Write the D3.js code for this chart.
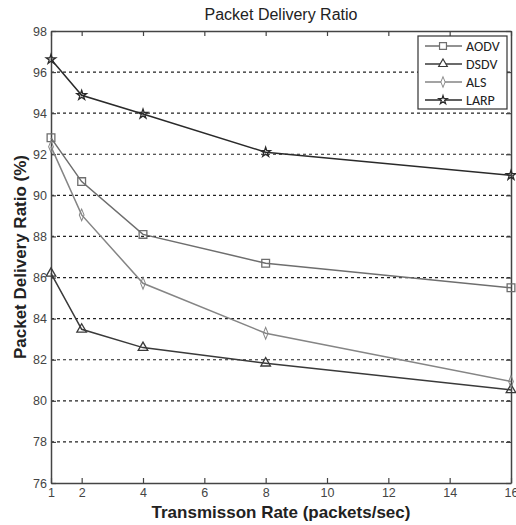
<!DOCTYPE html>
<html>
<head>
<meta charset="utf-8">
<script src="https://cdn.jsdelivr.net/npm/d3@7"></script>
<style>
  body { margin: 0; background: #fff; }
  svg { display: block; font-family: "Liberation Sans", Arial, sans-serif; }
</style>
</head>
<body>
<div id="chart"></div>
<script>
var rates = [1, 2, 4, 8, 16];
var xTicks = [1, 2, 4, 6, 8, 10, 12, 14, 16];
var yTicks = [76, 78, 80, 82, 84, 86, 88, 90, 92, 94, 96, 98];

var aodv = [92.8, 90.67, 88.1, 86.7, 85.5];
var dsdv = [86.2, 83.48, 82.59, 81.83, 80.53];
var als  = [92.37, 89.05, 85.72, 83.29, 80.94];
var larp = [96.62, 94.87, 93.96, 92.1, 90.98];

var seriesNames = ["AODV", "DSDV", "ALS", "LARP"];

var series = [
  {name: seriesNames[0], values: aodv, color: "#6e6e6e", sym: "square"},
  {name: seriesNames[1], values: dsdv, color: "#3a3a3a", sym: "triangle"},
  {name: seriesNames[2], values: als,  color: "#858585", sym: "diamond"},
  {name: seriesNames[3], values: larp, color: "#2a2a2a", sym: "star"}
];

var W = 516, H = 525;
var margin = {top: 31, right: 5, bottom: 42, left: 51};
var width = W - margin.left - margin.right,
    height = H - margin.top - margin.bottom;

var x = d3.scaleLinear().domain([1, 16]).range([0, width]);
var y = d3.scaleLinear().domain([76, 98]).range([height, 0]);

var svg = d3.select("#chart").append("svg")
  .attr("width", W).attr("height", H);

var g = svg.append("g")
  .attr("transform", "translate(" + margin.left + "," + margin.top + ")");

// dashed grid
g.append("g").selectAll("line")
  .data(yTicks.slice(1, -1))
  .enter().append("line")
  .attr("x1", 0).attr("x2", width)
  .attr("y1", d => y(d)).attr("y2", d => y(d))
  .attr("stroke", "#222").attr("stroke-width", 1.2)
  .attr("stroke-dasharray", "3,3");

// axes
var xAxis = g.append("g")
  .attr("transform", "translate(0," + height + ")")
  .call(d3.axisBottom(x).tickValues(xTicks).tickSizeInner(-5).tickSizeOuter(0).tickPadding(5));
var xTop = g.append("g")
  .call(d3.axisTop(x).tickValues(xTicks).tickSizeInner(-5).tickSizeOuter(0).tickFormat(""));
var yAxis = g.append("g")
  .call(d3.axisLeft(y).tickValues(yTicks).tickSizeInner(-5).tickSizeOuter(0).tickPadding(4));
var yRight = g.append("g")
  .attr("transform", "translate(" + width + ",0)")
  .call(d3.axisRight(y).tickValues(yTicks).tickSizeInner(-5).tickSizeOuter(0).tickFormat(""));

[xAxis, xTop, yAxis, yRight].forEach(function(a) {
  a.select(".domain").attr("stroke", "#444").attr("stroke-width", 1.5);
  a.selectAll(".tick line").attr("stroke", "#444").attr("stroke-width", 1.2);
  a.selectAll(".tick text").attr("fill", "#444").style("font-size", "12.5px");
});

// symbols
var symType = {
  square: d3.symbolSquare, triangle: d3.symbolTriangle,
  diamond: d3.symbolDiamond, star: d3.symbolStar
};
var symSize = {square: 60, triangle: 40, diamond: 40, star: 28};

var line = d3.line()
  .x((d, i) => x(rates[i]))
  .y(d => y(d));

series.forEach(function(s) {
  g.append("path")
    .datum(s.values)
    .attr("fill", "none")
    .attr("stroke", s.color)
    .attr("stroke-width", 1.5)
    .attr("d", line);

  g.append("g").selectAll("path")
    .data(s.values)
    .enter().append("path")
    .attr("transform", (d, i) => "translate(" + x(rates[i]) + "," + y(d) + ")" + (s.sym == "diamond" ? " scale(0.7,1)" : ""))
    .attr("d", d3.symbol().type(symType[s.sym]).size(symSize[s.sym]))
    .attr("fill", "none")
    .attr("stroke", s.color)
    .attr("stroke-width", 1.3);
});

// legend
var lg = svg.append("g").attr("transform", "translate(418,36)");
lg.append("rect")
  .attr("width", 89).attr("height", 73)
  .attr("fill", "#fff").attr("stroke", "#333").attr("stroke-width", 1.2);

series.forEach(function(s, i) {
  var ly = 10 + i * 18;
  lg.append("line")
    .attr("x1", 7).attr("x2", 44).attr("y1", ly).attr("y2", ly)
    .attr("stroke", s.color).attr("stroke-width", 1.5);
  lg.append("path")
    .attr("transform", "translate(25," + ly + ")" + (s.sym == "diamond" ? " scale(0.7,1)" : ""))
    .attr("d", d3.symbol().type(symType[s.sym]).size(symSize[s.sym] * 0.8))
    .attr("fill", "#fff").attr("stroke", s.color).attr("stroke-width", 1.2);
  lg.append("text")
    .attr("x", 48).attr("y", ly + 5)
    .attr("fill", "#222")
    .style("font-family", "Carlito, 'Open Sans', sans-serif")
    .style("font-size", "14px")
    .text(s.name);
});

// titles
svg.append("text")
  .attr("x", margin.left + width / 2).attr("y", 20)
  .attr("text-anchor", "middle")
  .attr("fill", "#222")
  .style("font-size", "16px")
  .text("Packet Delivery Ratio");

svg.append("text")
  .attr("x", margin.left + width / 2).attr("y", 518)
  .attr("text-anchor", "middle")
  .attr("fill", "#222")
  .style("font-size", "17px")
  .style("font-weight", "bold")
  .text("Transmisson Rate (packets/sec)");

svg.append("text")
  .attr("transform", "translate(26," + (margin.top + height / 2) + ") rotate(-90)")
  .attr("text-anchor", "middle")
  .attr("fill", "#222")
  .style("font-size", "17px")
  .style("font-weight", "bold")
  .text("Packet Delivery Ratio (%)");
</script>
</body>
</html>
